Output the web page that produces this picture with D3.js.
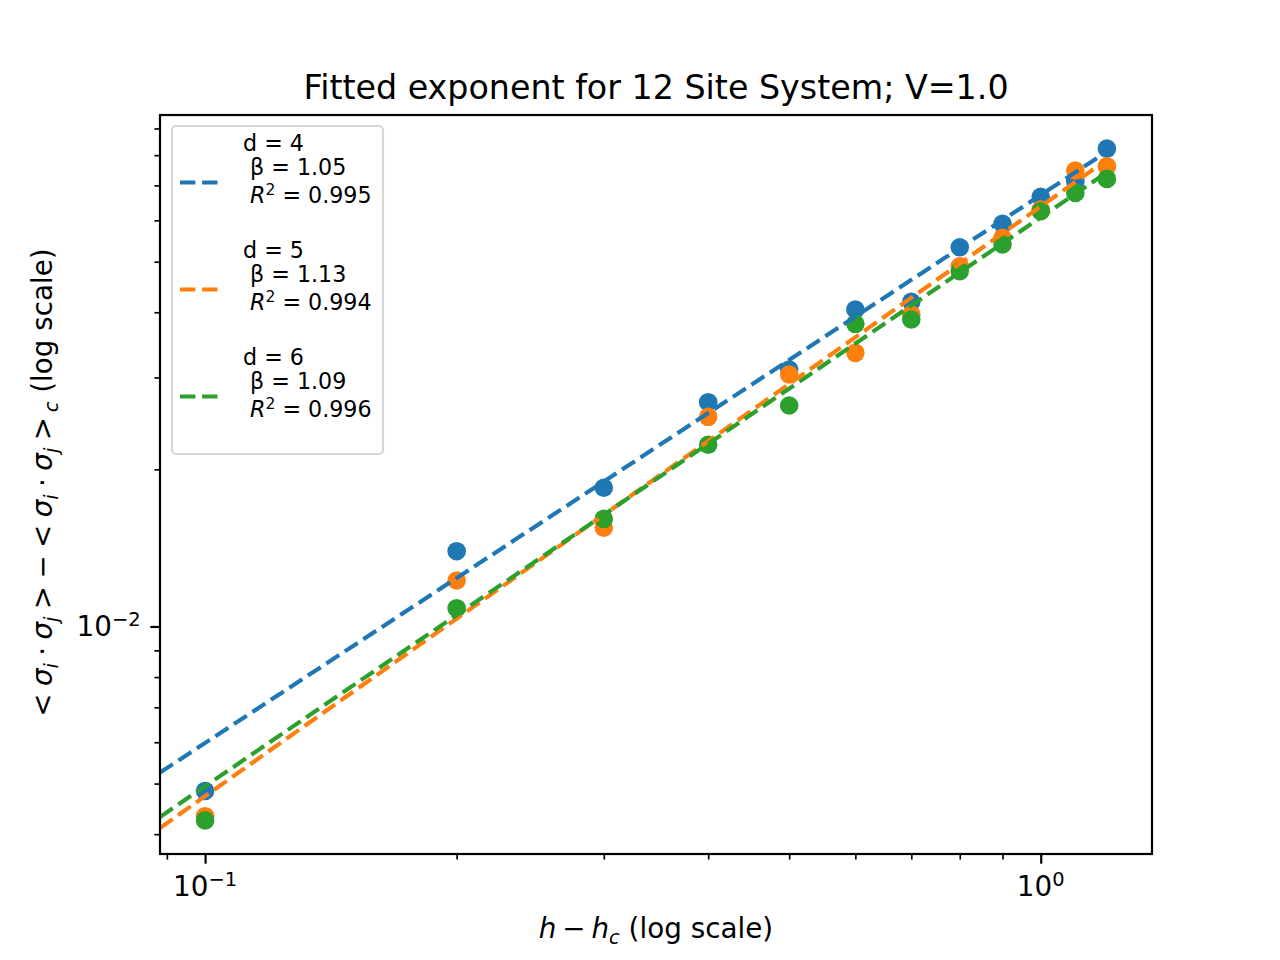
<!DOCTYPE html>
<html>
<head>
<meta charset="utf-8">
<script src="https://cdn.jsdelivr.net/npm/d3@7"></script>
<style>
  body { margin: 0; background: #fff; }
  svg { font-family: "DejaVu Sans", sans-serif; }
  text { white-space: pre; }
</style>
</head>
<body>
<script>
// values
const hValues = [0.1, 0.2, 0.3, 0.4, 0.5, 0.6, 0.7, 0.8, 0.9, 1.0, 1.1, 1.2];
const corrD4 = [0.00484, 0.01394, 0.01844, 0.0269, 0.03106, 0.04049, 0.04188, 0.05329, 0.05908, 0.06656, 0.07132, 0.08235];
const corrD5 = [0.00433, 0.01225, 0.01546, 0.02522, 0.03039, 0.03344, 0.0396, 0.04899, 0.05554, 0.06293, 0.07474, 0.07617];
const corrD6 = [0.00425, 0.01084, 0.01608, 0.02229, 0.02651, 0.03801, 0.03875, 0.04793, 0.05393, 0.06245, 0.06773, 0.07205];
const dims = [4, 5, 6];
const betas = [1.05, 1.13, 1.09];
const rSquared = [0.995, 0.994, 0.996];
const fitAmplitudes = [0.0671, 0.0638, 0.0608];   // fit value at h - h_c = 1
const xMajorTicks = [0.1, 1];
const xMajorLabels = ['−1', '0'];
const yMajorTicks = [0.01];
const yMajorLabels = ['−2'];

const series = [corrD4, corrD5, corrD6];
const colors = ['#1f77b4', '#ff7f0e', '#2ca02c'];

const width = 1280,
      height = 960,
      plot = { left: 160, right: 1152, top: 115, bottom: 854 },
      tickFont = 27.8,
      legendFont = 22.2;

// matplotlib style autoscale: 5% margin in log space
function logExtent(values) {
  const lo = Math.log10(d3.min(values)),
        hi = Math.log10(d3.max(values)),
        pad = (hi - lo) * 0.05;
  return [Math.pow(10, lo - pad), Math.pow(10, hi + pad)];
}

// writes plain / italic / sub / superscript pieces into a text element
// (math pieces get tighter spaces, like mathtext)
function richText(text, parts, size, mathSpace) {
  let shift = 0;
  parts.forEach(function(p) {
    const target = p.sub ? size * 0.22 : p.sup ? -size * 0.36 : 0;
    const span = text.append('tspan')
                     .attr('dy', target - shift)
                     .text(p.t);
    shift = target;
    if (p.it) span.attr('font-style', 'italic');
    if (p.sub || p.sup) span.attr('font-size', size * 0.7);
    if (!p.plain && mathSpace) span.style('word-spacing', mathSpace + 'px');
  });
  return text;
}

const x = d3.scaleLog()
            .domain(logExtent(hValues))
            .range([plot.left, plot.right]);

const y = d3.scaleLog()
            .domain(logExtent(series.flat()))
            .range([plot.bottom, plot.top]);

const svg = d3.select('body')
              .append('svg')
              .attr('width', width)
              .attr('height', height);

svg.append('rect')
   .attr('width', width)
   .attr('height', height)
   .attr('fill', '#fff');

svg.append('clipPath')
   .attr('id', 'plot-clip')
   .append('rect')
   .attr('x', plot.left)
   .attr('y', plot.top)
   .attr('width', plot.right - plot.left)
   .attr('height', plot.bottom - plot.top);

// ticks
const xMinor = x.ticks().filter(function(t) { return xMajorTicks.indexOf(t) < 0; }),
      yMinor = y.ticks().filter(function(t) { return Math.abs(t - 0.01) > 1e-9; });

function styleAxis(g, w) {
  g.select('.domain').remove();
  g.selectAll('.tick line').attr('stroke', '#000').attr('stroke-width', w);
}

svg.append('g')
   .attr('transform', `translate(0,${plot.bottom})`)
   .call(d3.axisBottom(x).tickValues(xMinor).tickSize(5.6).tickFormat(''))
   .call(styleAxis, 1.67);
svg.append('g')
   .attr('transform', `translate(0,${plot.bottom})`)
   .call(d3.axisBottom(x).tickValues(xMajorTicks).tickSize(9.7).tickFormat(''))
   .call(styleAxis, 2.2);
svg.append('g')
   .attr('transform', `translate(${plot.left},0)`)
   .call(d3.axisLeft(y).tickValues(yMinor).tickSize(5.6).tickFormat(''))
   .call(styleAxis, 1.67);
svg.append('g')
   .attr('transform', `translate(${plot.left},0)`)
   .call(d3.axisLeft(y).tickValues(yMajorTicks).tickSize(9.7).tickFormat(''))
   .call(styleAxis, 2.2);

xMajorTicks.forEach(function(t, i) {
  const label = svg.append('text')
                   .attr('x', x(t))
                   .attr('y', 896)
                   .attr('text-anchor', 'middle')
                   .attr('font-size', tickFont);
  richText(label, [{ t: '10' }, { t: xMajorLabels[i], sup: true }], tickFont);
});

yMajorTicks.forEach(function(t, i) {
  const label = svg.append('text')
                   .attr('x', plot.left - 19.4)
                   .attr('y', y(t) + 10)
                   .attr('text-anchor', 'end')
                   .attr('font-size', tickFont);
  richText(label, [{ t: '10' }, { t: yMajorLabels[i], sup: true }], tickFont);
});

// scatter points (drawn below the fit lines, like matplotlib zorder)
series.forEach(function(values, i) {
  svg.append('g')
     .selectAll('circle')
     .data(values)
     .enter()
     .append('circle')
     .attr('cx', function(d, j) { return x(hValues[j]); })
     .attr('cy', function(d) { return y(d); })
     .attr('r', 9.3)
     .attr('fill', colors[i]);
});

// power law fits  A * h^beta
const fitLine = d3.line()
                  .x(function(d) { return x(d[0]); })
                  .y(function(d) { return y(d[1]); });

series.forEach(function(values, i) {
  const ends = [x.domain()[0], d3.max(hValues)].map(function(h) {
    return [h, fitAmplitudes[i] * Math.pow(h, betas[i])];
  });
  svg.append('path')
     .attr('d', fitLine(ends))
     .attr('clip-path', 'url(#plot-clip)')
     .attr('fill', 'none')
     .attr('stroke', colors[i])
     .attr('stroke-width', 4.17)
     .attr('stroke-dasharray', '15.4,6.7');
});

// frame
svg.append('rect')
   .attr('x', plot.left)
   .attr('y', plot.top)
   .attr('width', plot.right - plot.left)
   .attr('height', plot.bottom - plot.top)
   .attr('fill', 'none')
   .attr('stroke', '#000')
   .attr('stroke-width', 2.2);

// titles
svg.append('text')
   .attr('x', (plot.left + plot.right) / 2)
   .attr('y', 99)
   .attr('text-anchor', 'middle')
   .attr('font-size', 33.3)
   .text('Fitted exponent for 12 Site System; V=1.0');

richText(svg.append('text')
            .attr('x', (plot.left + plot.right) / 2)
            .attr('y', 938)
            .attr('text-anchor', 'middle')
            .attr('font-size', tickFont),
         [{ t: 'h', it: true }, { t: ' − ' }, { t: 'h', it: true }, { t: 'c', it: true, sub: true },
          { t: ' (log scale)', plain: true }], tickFont, -3);

richText(svg.append('text')
            .attr('transform', `translate(52,${(plot.top + plot.bottom) / 2 - 2}) rotate(-90)`)
            .attr('text-anchor', 'middle')
            .attr('font-size', tickFont),
         [{ t: '< ' }, { t: 'σ', it: true }, { t: 'i', it: true, sub: true }, { t: ' · ' },
          { t: 'σ', it: true }, { t: 'j', it: true, sub: true }, { t: ' > − < ' },
          { t: 'σ', it: true }, { t: 'i', it: true, sub: true }, { t: ' · ' },
          { t: 'σ', it: true }, { t: 'j', it: true, sub: true }, { t: ' >' },
          { t: ' c', it: true, sub: true }, { t: ' (log scale)', plain: true }], tickFont, -1.5);

// legend
const legend = svg.append('g').attr('id', 'legend');

legend.append('rect')
      .attr('x', 172)
      .attr('y', 126)
      .attr('width', 211)
      .attr('height', 328)
      .attr('rx', 4)
      .attr('fill', '#fff')
      .attr('fill-opacity', 0.8)
      .attr('stroke', '#cccccc')
      .attr('stroke-opacity', 0.8)
      .attr('stroke-width', 2.2);

dims.forEach(function(d, i) {
  const base = 151 + i * 107;

  legend.append('line')
        .attr('x1', 180)
        .attr('x2', 217.5)
        .attr('y1', base + 31.5)
        .attr('y2', base + 31.5)
        .attr('stroke', colors[i])
        .attr('stroke-width', 4.17)
        .attr('stroke-dasharray', '15.4,6.7');

  legend.append('text')
        .attr('x', 243)
        .attr('y', base)
        .attr('font-size', legendFont)
        .text(`d = ${d}`);

  legend.append('text')
        .attr('x', 243)
        .attr('y', base + 23.6)
        .attr('font-size', legendFont)
        .text(` β = ${betas[i].toFixed(2)}`);

  richText(legend.append('text')
                 .attr('x', 243)
                 .attr('y', base + 52)
                 .attr('font-size', legendFont),
           [{ t: ' ' }, { t: 'R', it: true }, { t: '2', sup: true },
            { t: ` = ${rSquared[i].toFixed(3)}` }], legendFont);
});
</script>
</body>
</html>
